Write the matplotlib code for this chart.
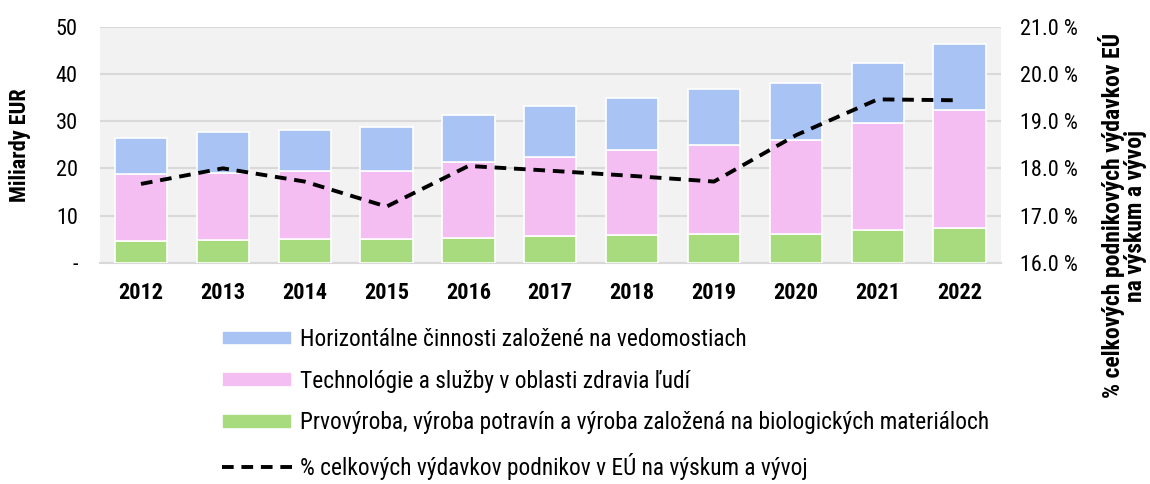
import numpy as np
import matplotlib
matplotlib.use('Agg')
import matplotlib.pyplot as plt
from matplotlib.ticker import FuncFormatter

plt.rcParams['font.family'] = ['Roboto Condensed', 'PT Sans Narrow', 'DejaVu Sans']

# údaje
roky = ['2012', '2013', '2014', '2015', '2016', '2017', '2018', '2019', '2020', '2021', '2022']
prvovyroba = [4.6, 4.9, 5.0, 5.0, 5.3, 5.7, 5.9, 6.2, 6.1, 6.9, 7.4]
zdravie = [14.3, 14.2, 14.4, 14.4, 16.1, 16.8, 17.9, 18.8, 20.0, 22.6, 24.9]
horizontalne = [7.6, 8.5, 8.7, 9.3, 9.9, 10.8, 11.1, 11.7, 12.0, 12.9, 14.1]
podiel = [17.67, 18.0, 17.72, 17.19, 18.05, 17.95, 17.84, 17.72, 18.7, 19.46, 19.44]

lbl_h = 'Horizontálne činnosti založené na vedomostiach'
lbl_z = 'Technológie a služby v oblasti zdravia ľudí'
lbl_p = 'Prvovýroba, výroba potravín a výroba založená na biologických materiáloch'
lbl_l = '% celkových výdavkov podnikov v EÚ na výskum a vývoj'

c_blue = '#A9C4F4'
c_pink = '#F4BEF3'
c_green = '#A7DB7E'

fs = 16

fig = plt.figure(figsize=(11.5, 4.84), dpi=100)
ax = fig.add_axes([0.087, 0.457, 0.783, 0.488])
ax.set_facecolor('#F2F2F2')

x = np.arange(len(roky))
w = 0.64
b1 = ax.bar(x, prvovyroba, w, color=c_green, edgecolor='white', linewidth=1.2, zorder=3, label=lbl_p)
b2 = ax.bar(x, zdravie, w, bottom=prvovyroba, color=c_pink, edgecolor='white', linewidth=1.2, zorder=3, label=lbl_z)
bot = np.array(prvovyroba) + np.array(zdravie)
b3 = ax.bar(x, horizontalne, w, bottom=bot, color=c_blue, edgecolor='white', linewidth=1.2, zorder=3, label=lbl_h)

ax.set_xlim(-0.5, len(roky) - 0.5)
ax.set_ylim(0, 50)
ax.set_yticks(np.arange(0, 51, 10))
ax.yaxis.set_major_formatter(FuncFormatter(lambda v, p: '-' if v == 0 else '%d' % v))
ax.grid(axis='y', color='#D9D9D9', linewidth=1.5, zorder=0)
ax.set_xticks(x)
ax.set_xticklabels(roky, fontsize=fs, fontweight='bold')
ax.tick_params(axis='x', length=0, pad=14)
ax.tick_params(axis='y', length=0, pad=16, labelsize=fs)
for s in ['top', 'left', 'right']:
    ax.spines[s].set_visible(False)
ax.spines['bottom'].set_color('#D9D9D9')
ax.spines['bottom'].set_linewidth(1.5)
ax.set_ylabel('Miliardy EUR', fontsize=fs, fontweight='bold')
ax.yaxis.set_label_coords(-0.077, 0.5)

ax2 = ax.twinx()
ln, = ax2.plot(x, podiel, color='black', linestyle=(0, (3, 2)), linewidth=2.8, zorder=5, label=lbl_l)
ax2.set_ylim(16, 21)
ax2.set_yticks(np.arange(16, 21.1, 1))
ax2.yaxis.set_major_formatter(FuncFormatter(lambda v, p: '%.1f %%' % v))
ax2.tick_params(axis='y', length=0, pad=14, labelsize=fs)
for s in ['top', 'left', 'right', 'bottom']:
    ax2.spines[s].set_visible(False)
ax2.set_ylabel('% celkových podnikových výdavkov EÚ\nna výskum a vývoj', fontsize=fs + 1,
               fontweight='bold', linespacing=0.95)
ax2.yaxis.set_label_coords(1.108, 0.2)

leg = fig.legend([b3, b2, b1, ln], [lbl_h, lbl_z, lbl_p, lbl_l],
                 loc='upper left', bbox_to_anchor=(0.193, 0.322), frameon=False,
                 fontsize=fs + 0.8, handlelength=3.0, handleheight=0.6, labelspacing=0.8,
                 handletextpad=0.35, borderpad=0, borderaxespad=0)

fig.savefig('out.png', dpi=100)
